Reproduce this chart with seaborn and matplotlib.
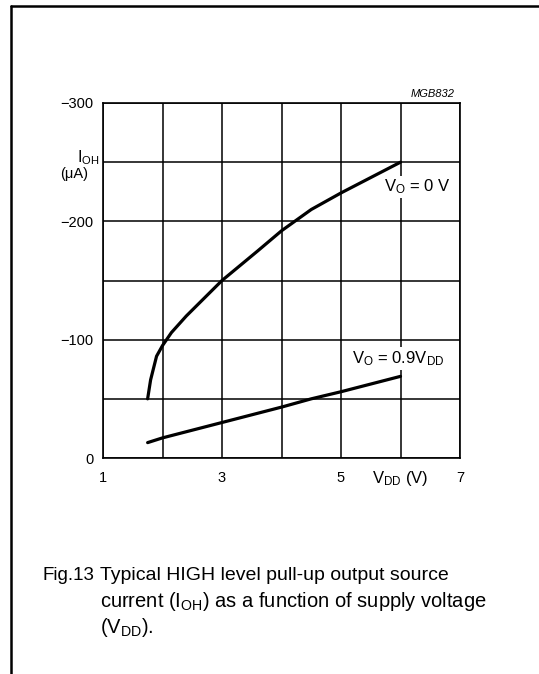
import matplotlib
matplotlib.use("Agg")
import matplotlib.pyplot as plt
from matplotlib.lines import Line2D
import seaborn as sns
import pandas as pd

# ---- data ----
vdd_vo0 = [1.75, 1.80, 1.85, 1.90, 2.00, 2.15, 2.40, 3.00, 3.60, 4.00, 4.50, 5.00, 5.50, 6.00]
ioh_vo0 = [-50, -66, -76, -86, -95, -106, -120, -150, -175, -192, -210, -224, -237, -250]

vdd_vo09 = [1.75, 2.00, 2.50, 3.00, 3.50, 4.00, 4.50, 5.00, 5.50, 6.00]
ioh_vo09 = [-13, -17, -23.5, -30, -36.5, -43, -50, -56, -62.5, -69]

series_names = ["VO = 0 V", "VO = 0.9VDD"]
x_ticks = [1, 2, 3, 4, 5, 6, 7]
x_ticklabels = ["1", "", "3", "", "5", "", "7"]
y_ticks = [0, -50, -100, -150, -200, -250, -300]
y_ticklabels = ["0", "", "\u2212100", "", "\u2212200", "", "\u2212300"]

df = pd.concat([
    pd.DataFrame({"VDD": vdd_vo0, "IOH": ioh_vo0, "curve": series_names[0]}),
    pd.DataFrame({"VDD": vdd_vo09, "IOH": ioh_vo09, "curve": series_names[1]}),
])

sns.set_theme(style="white")
plt.rcParams["font.family"] = ["Liberation Sans", "DejaVu Sans"]
plt.rcParams["mathtext.fontset"] = "custom"
plt.rcParams["mathtext.rm"] = "Liberation Sans"
plt.rcParams["mathtext.it"] = "Liberation Sans:italic"
plt.rcParams["text.color"] = "black"
plt.rcParams["xtick.color"] = "black"
plt.rcParams["ytick.color"] = "black"

W, H = 539, 674
fig = plt.figure(figsize=(W / 100, H / 100), dpi=100)
fig.patch.set_facecolor("white")

def fx(px):
    return px / W

def fy(py):
    return 1 - py / H

left, right, top, bottom = 103, 460, 103, 458
ax = fig.add_axes([fx(left), fy(bottom), fx(right) - fx(left), fy(top) - fy(bottom)])

sns.lineplot(data=df, x="VDD", y="IOH", hue="curve", units="curve", estimator=None,
             palette=["black", "black"], linewidth=2.3, legend=False, ax=ax, sort=True,
             zorder=3)

ax.set_xlim(1, 7)
ax.set_ylim(0, -300)
ax.set_xticks(x_ticks)
ax.set_xticklabels(x_ticklabels)
ax.set_yticks(y_ticks)
ax.set_yticklabels(y_ticklabels)
ax.tick_params(axis="both", length=0, labelsize=10.5, colors="black")
ax.tick_params(axis="x", pad=9)
ax.tick_params(axis="y", pad=7)
ax.grid(True, color="black", linewidth=1.1)
ax.set_axisbelow(True)
for s in ax.spines.values():
    s.set_visible(True)
    s.set_color("black")
    s.set_linewidth(1.2)
ax.set_xlabel("")
ax.set_ylabel("")

# curve labels with white backgrounds
ax.text(5.72, -229, r"V$_\mathregular{O}$ = 0 V", fontsize=12, ha="left", va="center",
        zorder=2.5, bbox=dict(facecolor="white", edgecolor="none", pad=1.5))
ax.text(5.18, -84, r"V$_\mathregular{O}$ = 0.9V$_\mathregular{DD}$", fontsize=12, ha="left",
        va="center", zorder=2.5, bbox=dict(facecolor="white", edgecolor="none", pad=1.5))

# axis labels
fig.text(fx(77), fy(162), r"I$_\mathregular{OH}$", fontsize=11.5, ha="left", va="baseline")
fig.text(fx(60), fy(178), "(\u03bcA)", fontsize=10.5, ha="left", va="baseline")
fig.text(fx(372), fy(483), r"V$_\mathregular{DD}$ (V)", fontsize=12, ha="left", va="baseline")
fig.text(fx(455), fy(97), "MGB832", fontsize=8, style="italic", ha="right", va="baseline")

# caption
fig.text(fx(42), fy(580), "Fig.13", fontsize=13.5, ha="left", va="baseline")
fig.text(fx(100), fy(580), "Typical HIGH level pull-up output source", fontsize=14,
         ha="left", va="baseline")
fig.text(fx(100), fy(607), r"current (I$_\mathregular{OH}$) as a function of supply voltage",
         fontsize=14.5, ha="left", va="baseline")
fig.text(fx(100), fy(633), r"(V$_\mathregular{DD}$).", fontsize=14.5, ha="left", va="baseline")

# page frame (top and left rules)
fig.add_artist(Line2D([fx(11), fx(539)], [fy(6), fy(6)], color="black", linewidth=1.8,
                      transform=fig.transFigure))
fig.add_artist(Line2D([fx(11), fx(11)], [fy(6), fy(674)], color="black", linewidth=1.8,
                      transform=fig.transFigure))

fig.savefig("out.png", dpi=100, facecolor="white")
